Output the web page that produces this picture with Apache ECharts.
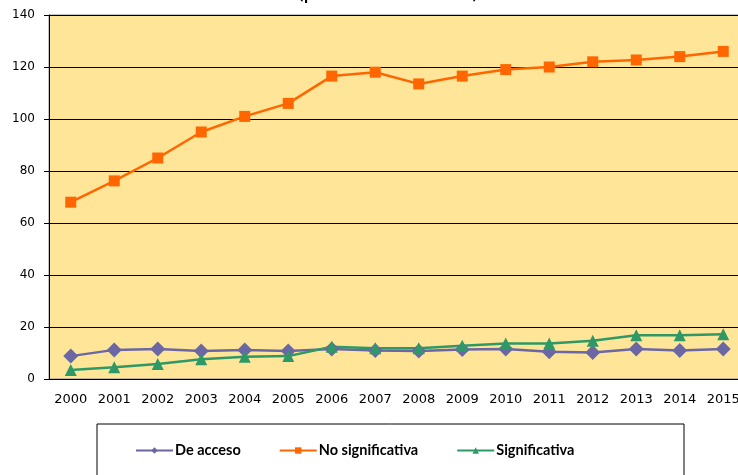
<!DOCTYPE html>
<html>
<head>
<meta charset="utf-8">
<script src="https://cdn.jsdelivr.net/npm/echarts@6/dist/echarts.min.js"></script>
<style>
  html, body { margin: 0; padding: 0; background: #fff; }
  #chart { width: 738px; height: 475px; }
</style>
</head>
<body>
<div id="chart"></div>
<script>
var years = ['2000', '2001', '2002', '2003', '2004', '2005', '2006', '2007',
  '2008', '2009', '2010', '2011', '2012', '2013', '2014', '2015'];
var deAcceso = [8.8, 11.2, 11.5, 10.8, 11.2, 10.8, 11.5, 11, 10.8, 11.3, 11.5, 10.5, 10.2, 11.5, 11, 11.5];
var noSignificativa = [68, 76.2, 85, 95, 101, 106, 116.5, 118, 113.5, 116.5, 119, 120, 122, 122.7, 124, 126];
var significativa = [3.5, 4.5, 5.8, 7.6, 8.6, 8.8, 12.4, 11.8, 11.8, 12.8, 13.7, 13.7, 14.7, 16.8, 16.8, 17.2];

var chart = echarts.init(document.getElementById('chart'));
var axisFont = 'DejaVu Sans';
var option = {
  animation: false,
  title: {
    text: '(por cada mil estudiantes)',
    left: 383,
    textAlign: 'center',
    top: -14,
    textStyle: { fontFamily: axisFont, fontSize: 12, fontWeight: 'bold', color: '#000' }
  },
  grid: {
    left: 49,
    width: 696,
    top: 15,
    bottom: 96,
    outerBoundsMode: 'none',
    containLabel: false,
    show: true,
    backgroundColor: '#FFE597',
    borderColor: '#888',
    borderWidth: 1
  },
  xAxis: {
    type: 'category',
    data: years,
    boundaryGap: true,
    axisLine: { lineStyle: { color: '#000', width: 1 } },
    axisTick: { lineStyle: { color: '#000' }, length: 5 },
    axisLabel: { color: '#000', fontFamily: axisFont, fontSize: 13, margin: 14 }
  },
  yAxis: {
    type: 'value',
    min: 0,
    max: 140,
    interval: 20,
    axisLine: { show: true, lineStyle: { color: '#000', width: 1 } },
    axisTick: { show: true, lineStyle: { color: '#000' }, length: 5 },
    axisLabel: { color: '#000', fontFamily: axisFont, fontSize: 12, margin: 14 },
    splitLine: { lineStyle: { color: '#000', width: 1 } }
  },
  legend: {
    left: 130,
    top: 438,
    itemGap: 38,
    itemWidth: 37,
    itemHeight: 8,
    textStyle: { fontFamily: 'Lato', fontSize: 14.5, fontWeight: 'bold', color: '#000', padding: [0, 0, 0, -3] },
    data: ['De acceso', 'No significativa', 'Significativa']
  },
  graphic: [{
    type: 'rect',
    shape: { x: 97, y: 424, width: 587, height: 60 },
    style: { fill: 'none', stroke: '#000', lineWidth: 1 }
  }],
  series: [{
    name: 'De acceso',
    type: 'line',
    data: deAcceso,
    symbol: 'diamond',
    symbolSize: 15,
    color: '#6B67A5',
    lineStyle: { width: 2.5 }
  }, {
    name: 'No significativa',
    type: 'line',
    data: noSignificativa,
    symbol: 'rect',
    symbolSize: 11,
    color: '#FF6600',
    lineStyle: { width: 2.5 }
  }, {
    name: 'Significativa',
    type: 'line',
    data: significativa,
    symbol: 'triangle',
    symbolSize: 12,
    color: '#2E9966',
    lineStyle: { width: 2.5 }
  }]
};
chart.setOption(option);
</script>
</body>
</html>
